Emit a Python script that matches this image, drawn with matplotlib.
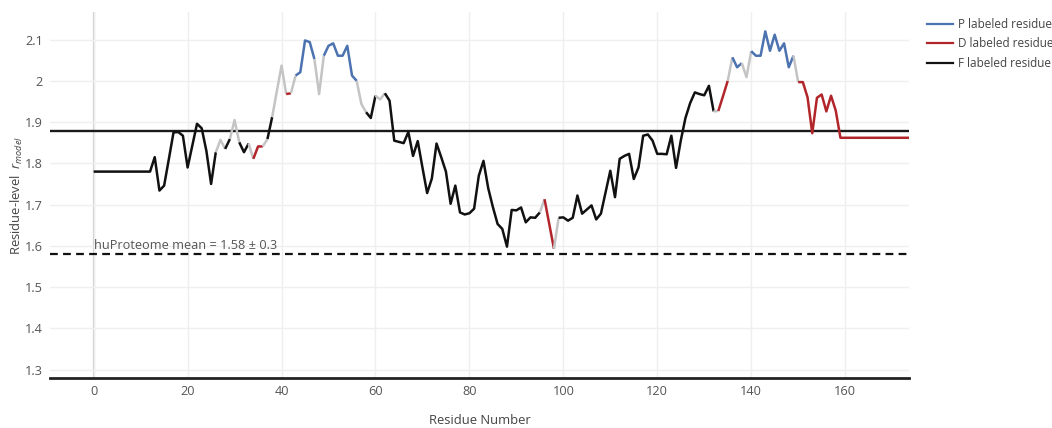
import matplotlib
matplotlib.use("Agg")
import matplotlib.pyplot as plt
from matplotlib.lines import Line2D
from matplotlib.ticker import FuncFormatter

plt.rcParams['font.family'] = ['Open Sans', 'DejaVu Sans']
plt.rcParams['lines.scale_dashes'] = False
plt.rcParams['mathtext.fontset'] = 'custom'
plt.rcParams['mathtext.it'] = 'Open Sans:italic'
plt.rcParams['mathtext.rm'] = 'Open Sans'

# ---------------- data ----------------
residues = list(range(0, 175))
r_model = (
    [1.78] * 13 +                                                    # 0-12
    [1.815, 1.734, 1.746, 1.81, 1.875, 1.876, 1.867, 1.79, 1.843,    # 13-21
     1.896, 1.885, 1.83, 1.75, 1.827, 1.857, 1.835, 1.859, 1.905,    # 22-30
     1.851, 1.827, 1.848, 1.811, 1.841, 1.841, 1.859, 1.912, 1.975,  # 31-39
     2.037, 1.968, 1.970, 2.013, 2.021, 2.098, 2.094, 2.053, 1.968,  # 40-48
     2.061, 2.085, 2.091, 2.061, 2.061, 2.085, 2.013, 2.000, 1.944,  # 49-57
     1.924, 1.910, 1.964, 1.955, 1.970, 1.952, 1.855, 1.852, 1.849,  # 58-66
     1.876, 1.818, 1.854, 1.79, 1.728, 1.763, 1.848, 1.815, 1.780,   # 67-75
     1.702, 1.746, 1.681, 1.676, 1.679, 1.690, 1.770, 1.806, 1.740,  # 76-84
     1.694, 1.653, 1.641, 1.598, 1.687, 1.686, 1.693, 1.657, 1.669,  # 85-93
     1.668, 1.681, 1.713, 1.653, 1.593, 1.668, 1.669, 1.661, 1.668,  # 94-102
     1.722, 1.678, 1.688, 1.698, 1.664, 1.678, 1.73, 1.782, 1.718,   # 103-111
     1.811, 1.818, 1.823, 1.762, 1.790, 1.867, 1.870, 1.855, 1.823,  # 112-120
     1.823, 1.822, 1.867, 1.789, 1.855, 1.910, 1.946, 1.972, 1.968,  # 121-129
     1.965, 1.988, 1.926, 1.927, 1.963, 2.000, 2.057, 2.033, 2.043,  # 130-138
     2.009, 2.072, 2.061, 2.061, 2.120, 2.073, 2.112, 2.073, 2.091,  # 139-147
     2.033, 2.061, 1.997, 1.997, 1.960, 1.873, 1.959, 1.967, 1.926,  # 148-156
     1.964, 1.928, 1.862] +                                          # 157-159
    [1.862] * 15                                                     # 160-174
)
# label of each residue: (first, last, label); '-' = unlabeled
label_runs = [(0, 26, 'F'), (27, 27, '-'), (28, 29, 'F'), (30, 30, '-'),
              (31, 33, 'F'), (34, 36, 'D'), (37, 38, 'F'), (39, 40, '-'),
              (41, 42, 'D'), (43, 47, 'P'), (48, 48, '-'), (49, 56, 'P'),
              (57, 57, '-'), (58, 60, 'F'), (61, 61, '-'), (62, 95, 'F'),
              (96, 98, 'D'), (99, 132, 'F'), (133, 135, 'D'), (136, 138, 'P'),
              (139, 139, '-'), (140, 149, 'P'), (150, 174, 'D')]
legend_labels = ['P labeled residue', 'D labeled residue', 'F labeled residue']
model_mean = 1.878
proteome_mean = 1.58
proteome_text = 'huProteome mean = 1.58 \u00b1 0.3'
x_ticks = [0, 20, 40, 60, 80, 100, 120, 140, 160]
y_ticks = [1.3, 1.4, 1.5, 1.6, 1.7, 1.8, 1.9, 2.0, 2.1]

# ---------------- style ----------------
colors = {'P': '#4c72b0', 'D': '#b2252a', 'F': '#111111', '-': '#c4c4c4'}
FS = 9.2

labels = []
for a, b, lab in label_runs:
    labels += [lab] * (b - a + 1)

fig = plt.figure(figsize=(10.52, 4.28), dpi=100)
ax = fig.add_axes([50 / 1052, 1 - 378 / 428, 859 / 1052, 366 / 428])

ax.set_xlim(-9.3, 173.6)
ax.set_ylim(1.2795, 2.167)

# grid
ax.set_xticks(x_ticks)
ax.set_yticks(y_ticks)
ax.grid(True, color='#efefef', lw=1.0, zorder=0)
ax.axvline(0, color='#cfcfcf', lw=1.6, zorder=1)

for s in ['top', 'right', 'left']:
    ax.spines[s].set_visible(False)
ax.spines['bottom'].set_color('#222222')
ax.spines['bottom'].set_linewidth(2.0)
ax.tick_params(length=0, labelsize=FS, labelcolor='#555555', pad=5)
ax.yaxis.set_major_formatter(FuncFormatter(lambda v, p: ('%.1f' % v).rstrip('0').rstrip('.')))

# reference lines
ax.axhline(model_mean, color='#1a1a1a', lw=1.7, zorder=2)
ax.axhline(proteome_mean, color='#111111', lw=1.6, ls=(0, (5.6, 3.8)), zorder=2)
ax.text(0, proteome_mean + 0.005, proteome_text, fontsize=FS, color='#555555',
        va='bottom', ha='left')

# data: draw runs of same-coloured segments
seg_colors = []
for i in range(len(residues) - 1):
    a, b = labels[i], labels[i + 1]
    seg_colors.append(colors[a] if (a == b and a != '-') else colors['-'])

start = 0
for i in range(1, len(seg_colors) + 1):
    if i == len(seg_colors) or seg_colors[i] != seg_colors[start]:
        ax.plot(residues[start:i + 1], r_model[start:i + 1], color=seg_colors[start],
                lw=1.8, solid_joinstyle='round', solid_capstyle='butt', zorder=3)
        start = i

ax.set_xlabel('Residue Number', fontsize=FS + 0.2, color='#444444', va='center')
ax.xaxis.set_label_coords(0.5, (378 - 420) / 366)
ax.set_ylabel(r'Residue-level  $r_{model}$', fontsize=FS + 0.2, color='#444444', va='center')
ax.yaxis.set_label_coords((17 - 50) / 859, 0.5)

handles = [Line2D([], [], color=colors[k], lw=1.6) for k in ['P', 'D', 'F']]
fig.legend(handles, legend_labels, loc='upper left', bbox_to_anchor=(927 / 1052, 1 - 18 / 428),
           frameon=False, fontsize=8.5, labelcolor='#444444', handlelength=2.2,
           handletextpad=0.4, labelspacing=0.55, borderpad=0, borderaxespad=0)

fig.savefig('out.png', dpi=100)
